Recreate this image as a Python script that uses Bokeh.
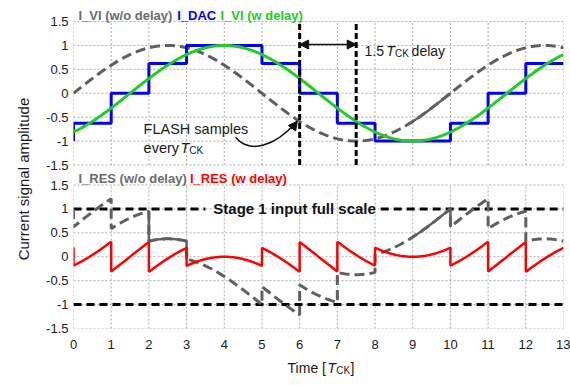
import numpy as np
from bokeh.plotting import figure
from bokeh.layouts import column
from bokeh.models import (Range1d, FixedTicker, CustomJSTickFormatter, Label,
                          Arrow, NormalHead)
from bokeh.embed import file_html
from bokeh.resources import INLINE

# ---- signal description (time in units of T_CK) ----
PERIOD = 10.0          # input sine period
DELAY = 1.5            # delay of the VI path
AMP = 1.0              # input amplitude
T_START, T_END = 0, 13

DAC_BEFORE = -1.0      # DAC level just before t = 0
# DAC output held over each clock interval [k, k+1]
dac_levels = [-0.625, 0.0, 0.625, 1.0, 1.0, 0.625, 0.0, -0.625,
              -1.0, -1.0, -0.625, 0.0, 0.625]

x_ticks = list(range(T_START, T_END + 1))
y_ticks = [-1.5, -1.0, -0.5, 0.0, 0.5, 1.0, 1.5]
full_scale = [1.0, -1.0]

FONT = "Liberation Sans"
OFF = 3.418            # vertical shift of the upper panel inside the shared frame
Y_TOP = 5.358          # frame top (room for the series titles)

GREY = "#5f5f5f"
BLUE = "#0000ff"
GREEN = "#22cc22"
RED = "#ff0000"
INK = "#1a1a1a"


def vi(t):
    return AMP * np.sin(2 * np.pi * t / PERIOD)


def vi_delayed(t):
    return vi(t - DELAY)


fig = figure(width=570, height=355, x_range=Range1d(T_START, T_END),
             y_range=Range1d(-1.5, Y_TOP), output_backend="svg",
             toolbar_location=None, min_border_left=73, min_border_right=7,
             min_border_top=0, min_border_bottom=27)
fig.xgrid.visible = False
fig.ygrid.visible = False
fig.outline_line_color = None

# axes
fig.xaxis.ticker = FixedTicker(ticks=x_ticks)
fig.yaxis.ticker = FixedTicker(ticks=y_ticks + [v + OFF for v in y_ticks])
fig.yaxis.formatter = CustomJSTickFormatter(args=dict(off=OFF), code="""
    const v = tick > 1.7 ? tick - off : tick;
    const r = Math.round(v * 10) / 10;
    return r === 0 ? "0" : String(r);
""")
for ax in (fig.xaxis[0], fig.yaxis[0]):
    ax.axis_line_color = None
    ax.major_tick_line_color = None
    ax.minor_tick_line_color = None
    ax.major_tick_in = 0
    ax.major_tick_out = 0
    ax.major_label_text_font = FONT
    ax.major_label_text_font_size = "13px"
    ax.major_label_text_color = INK
fig.xaxis.major_label_standoff = 11
fig.yaxis.major_label_standoff = 5
# trailing no-break spaces nudge the centred title down to the gap between panels
fig.yaxis.axis_label = "Current signal amplitude" + "\u00a0" * 7
fig.yaxis.axis_label_text_font = FONT
fig.yaxis.axis_label_text_font_style = "normal"
fig.yaxis.axis_label_text_font_size = "15px"
fig.yaxis.axis_label_text_color = INK
fig.yaxis.axis_label_standoff = 11

# dotted grid and frame for both panels
gx, gy = [], []
for o in (0.0, OFF):
    for k in x_ticks:
        gx.append([k, k])
        gy.append([-1.5 + o, 1.5 + o])
    for v in y_ticks:
        gx.append([T_START, T_END])
        gy.append([v + o, v + o])
fig.multi_line(gx, gy, line_color="#ababab", line_width=1, line_dash="2 2")

# ---- upper panel: input, DAC staircase, delayed input ----
t = np.linspace(T_START, T_END, 600)
fig.line(t, vi(t) + OFF, line_color=GREY, line_width=3, line_dash="10 5")
ts = np.linspace(8.9, 10.0, 40)
fig.line(ts, vi(ts) + OFF, line_color=GREY, line_width=2.5)

sx, sy = [T_START], [DAC_BEFORE]
for k, lvl in enumerate(dac_levels):
    sx += [T_START + k, T_START + k + 1]
    sy += [lvl, lvl]
fig.line(sx, np.array(sy) + OFF, line_color=BLUE, line_width=3)
fig.line(t, vi_delayed(t) + OFF, line_color=GREEN, line_width=3)

# ---- lower panel: residues ----
for v in full_scale:
    if v > 0:
        fig.line([T_START, 3.5], [v, v], line_color="black", line_width=3, line_dash="8 5")
        fig.line([8.15, T_END], [v, v], line_color="black", line_width=3, line_dash="8 5")
    else:
        fig.line([T_START, T_END], [v, v], line_color="black", line_width=3, line_dash="8 5")

rx, r_nd, r_d = [T_START], [vi(0.0) - DAC_BEFORE], [vi_delayed(0.0) - DAC_BEFORE]
for k, lvl in enumerate(dac_levels):
    tk = np.linspace(T_START + k, T_START + k + 1, 40)
    rx += list(tk)
    r_nd += list(vi(tk) - lvl)
    r_d += list(vi_delayed(tk) - lvl)
rx, r_nd, r_d = np.array(rx), np.array(r_nd), np.array(r_d)
fig.line(rx, r_nd, line_color=GREY, line_width=3, line_dash="10 5")
for a, b in ((2.0, 3.0), (9.0, 10.0)):
    m = (rx >= a) & (rx <= b)
    fig.line(rx[m], r_nd[m], line_color=GREY, line_width=2.5)
fig.line(rx, r_d, line_color=RED, line_width=2.5)

# sampling instants marking the 1.5 T_CK delay
for tv in (6.0, 7.5):
    fig.line([tv, tv], [-1.5 + OFF, 1.5 + OFF], line_color="black", line_width=3,
             line_dash="6 3")
fig.add_layout(Arrow(start=NormalHead(size=9, fill_color="#111", line_color="#111"),
                     end=NormalHead(size=9, fill_color="#111", line_color="#111"),
                     x_start=6.0, y_start=1.02 + OFF, x_end=7.5, y_end=1.02 + OFF,
                     line_color="#111", line_width=1.5))

# curved pointer to the FLASH sample
fig.bezier(x0=[4.3], y0=[-0.92 + OFF], x1=[5.88], y1=[-0.63 + OFF],
           cx0=[4.69], cy0=[-1.29 + OFF], cx1=[5.36], cy1=[-1.08 + OFF],
           line_color="#111", line_width=1.5)
fig.add_layout(Arrow(end=NormalHead(size=9, fill_color="#111", line_color="#111"),
                     x_start=5.78, y_start=-0.75 + OFF, x_end=5.94, y_end=-0.58 + OFF,
                     line_color="#111", line_width=1.5))


def label(plot, x, y, text, size, color=INK, style="normal", baseline="alphabetic"):
    plot.add_layout(Label(x=x, y=y, text=text, text_font=FONT, text_font_size=size,
                          text_font_style=style, text_color=color,
                          text_baseline=baseline))


# series titles
label(fig, 0.13, 5.04, "I_VI (w/o delay)", "13px", "#6b6b6b", "bold")
label(fig, 2.75, 5.04, "I_DAC", "13px", BLUE, "bold")
label(fig, 3.90, 5.04, "I_VI (w delay)", "13px", GREEN, "bold")
label(fig, 0.13, 1.646, "I_RES (w/o delay)", "13px", "#6b6b6b", "bold")
label(fig, 3.09, 1.646, "I_RES (w delay)", "13px", RED, "bold")

# annotations
label(fig, 1.86, -0.737 + OFF, "FLASH samples", "14.5px")
label(fig, 1.86, -1.134 + OFF, "every", "14.5px")
label(fig, 2.84, -1.134 + OFF, "T", "14.5px", style="italic")
label(fig, 3.07, -1.20 + OFF, "CK", "10px")
label(fig, 7.72, 0.894 + OFF, "1.5", "14px")
label(fig, 8.30, 0.894 + OFF, "T", "14px", style="italic")
label(fig, 8.53, 0.83 + OFF, "CK", "10px")
label(fig, 8.97, 0.894 + OFF, "delay", "14px")
label(fig, 3.71, 1.0, "Stage 1 input full scale", "15px", "#111", "bold", "middle")

# x axis title with subscript, in a strip whose frame lines up with the plot above
cap = figure(width=570, height=30, x_range=Range1d(T_START, T_END),
             y_range=Range1d(0, 30), output_backend="svg", toolbar_location=None,
             x_axis_type=None, y_axis_type=None, min_border_left=73,
             min_border_right=7, min_border_top=0, min_border_bottom=0)
cap.xgrid.visible = False
cap.ygrid.visible = False
cap.outline_line_color = None
label(cap, 5.68, 18, "Time [", "14px")
label(cap, 6.74, 18, "T", "14px", style="italic")
label(cap, 6.97, 15.5, "CK", "10px")
label(cap, 7.35, 18, "]", "14px")

p = column(fig, cap, spacing=0)

open("out.html", "w").write(file_html(p, INLINE))
